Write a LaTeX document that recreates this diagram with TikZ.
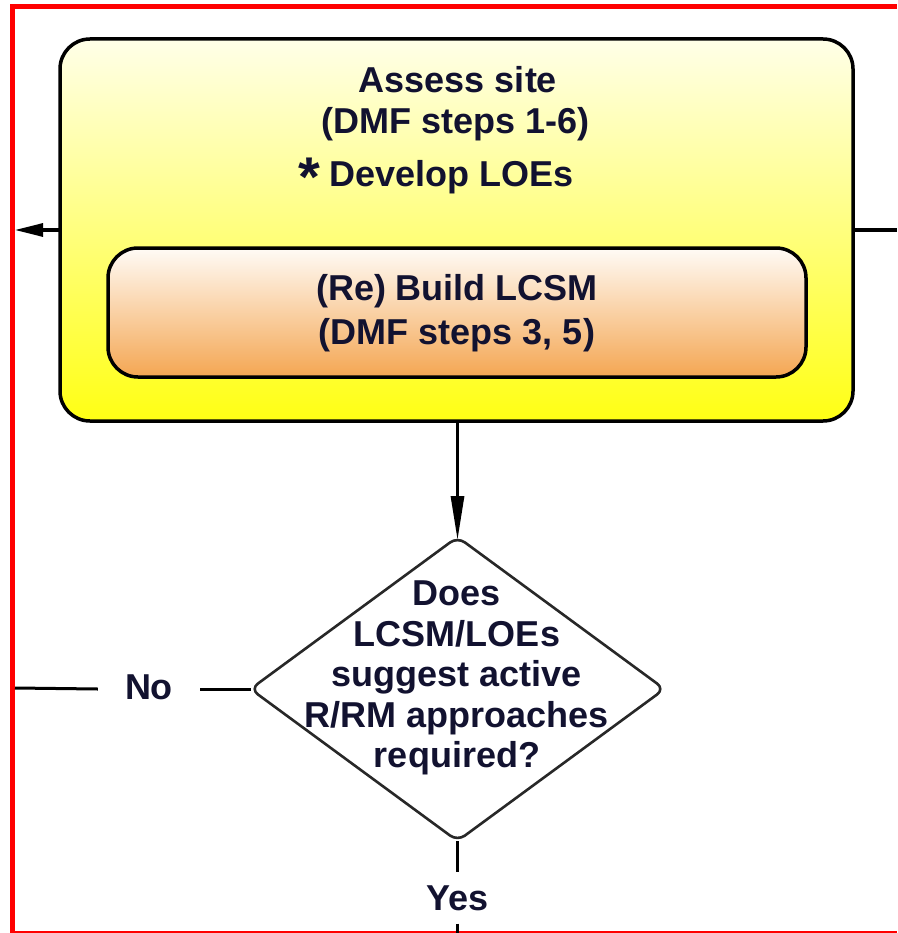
\documentclass[tikz,border=0pt]{standalone}
\usepackage{fontspec}
\setmainfont{Liberation Sans}
\usetikzlibrary{shapes.geometric,arrows.meta}
\definecolor{ink}{RGB}{18,18,48}
\definecolor{paleyellow}{RGB}{255,255,232}
\definecolor{deepyellow}{RGB}{255,255,20}
\definecolor{palepeach}{RGB}{255,251,246}
\definecolor{deeporange}{RGB}{244,166,82}
\definecolor{framered}{RGB}{255,0,0}
\definecolor{diamondline}{RGB}{40,40,40}
\begin{document}
\begin{tikzpicture}[x=1pt,y=-1pt,
  txt/.style={font=\fontsize{36}{40}\selectfont\bfseries, text=ink, inner sep=0pt, anchor=base},
  conn/.style={line width=3, black},
  roundbox/.style={draw, line width=3.5, rounded corners=30, inner sep=0pt, outer sep=0pt},
  decision/.style={diamond, draw=diamondline, line width=2.6, rounded corners=9,
    inner sep=0pt, outer sep=0pt, fill=white}]
\useasboundingbox (0,0) rectangle (897,933);

% red frame
\draw[framered, line width=5] (897,6.5) -- (12.5,6.5) -- (12.5,933);
\draw[framered, line width=1.5] (12.5,932) -- (897,932);

% assessment box with nested LCSM box
\node[roundbox, minimum width=793, minimum height=382,
      top color=paleyellow, bottom color=deepyellow] (assess) at (456.5,230) {};
\node[roundbox, minimum width=698, minimum height=129,
      top color=palepeach, bottom color=deeporange] (rebuild) at (457,312.5) {};

\node[txt] (t1) at (458,93) {Assess site};
\node[txt] (t2) at (456,134) {(DMF steps 1-6)};
\node[txt] (t3) at (436,187) {\raisebox{-10pt}{\fontsize{56}{56}\selectfont *} Develop LOEs};

\node[txt] (r1) at (457,300) {(Re) Build LCSM};
\node[txt] (r2) at (457,344) {(DMF steps 3, 5)};

% decision diamond
\node[decision, minimum width=414, minimum height=304] (decide) at (457.5,689) {};
\node[txt] (d1) at (457,605) {Does};
\node[txt] (d2) at (457,646) {LCSM/LOEs};
\node[txt] (d3) at (457,686) {suggest active};
\node[txt] (d4) at (457,727) {R/RM approaches};
\node[txt] (d5) at (457,767) {required?};

% branch labels
\node[txt, inner xsep=27pt] (no) at (149,699) {No};
\node[txt, inner ysep=13pt] (yes) at (457.5,910) {Yes};

% free ends of connectors
\coordinate (leftend) at (15,230);
\coordinate (rightend) at (897,230);
\coordinate (noend) at (15,688);
\coordinate (yesend) at (457.5,933);

% connectors
\draw[conn, -{Triangle[length=28,width=13]}] (assess.west) -- (leftend);
\draw[conn] (assess.east) -- (rightend);
\draw[conn, -{Triangle[length=44,width=13]}] (assess.south -| decide.north) -- ([yshift=-3pt]decide.north);
\draw[conn] (decide.west) -- (decide.west -| no.east);
\draw[conn] (decide.west -| no.west) -- (noend);
\draw[conn] (decide.south) -- (yes.north);
\draw[conn] (yes.south) -- (yesend);
\end{tikzpicture}
\end{document}
